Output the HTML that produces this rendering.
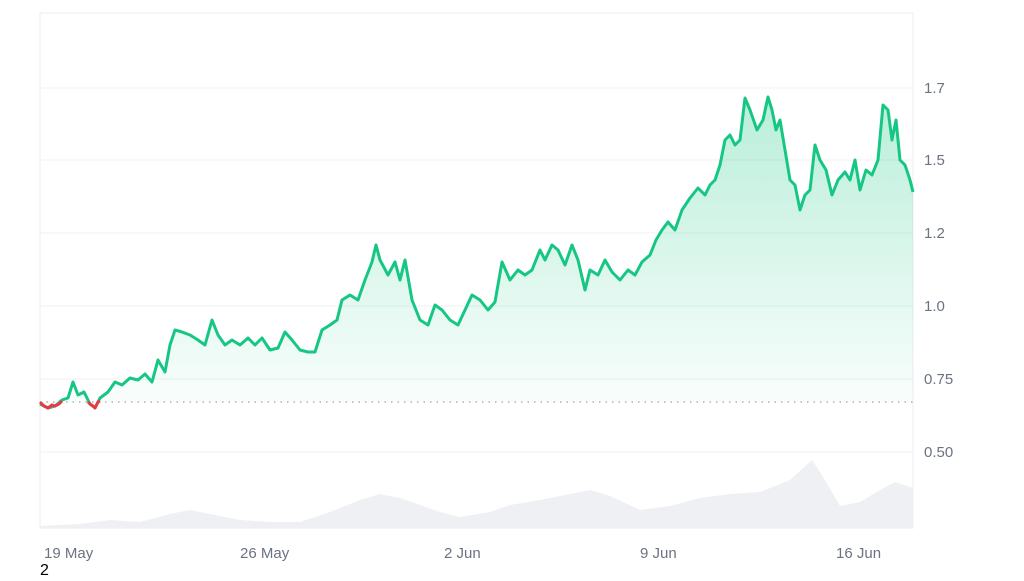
<!DOCTYPE html>
<html><head><style>
body{margin:0;background:#fff;width:1024px;height:576px;overflow:hidden;font-family:"Liberation Sans",sans-serif}
</style></head><body>
<svg width="1024" height="576" viewBox="0 0 1024 576" xmlns="http://www.w3.org/2000/svg">
<defs><linearGradient id="g" x1="0" y1="0" x2="0" y2="1">
<stop offset="0" stop-color="#16c784" stop-opacity="0.3"/><stop offset="1" stop-color="#16c784" stop-opacity="0.02"/></linearGradient></defs>
<rect x="40" y="13" width="873" height="515" fill="none" stroke="#eceef1"/>
<g stroke="#f0f1f3" stroke-width="1">
<line x1="40" x2="913" y1="88" y2="88"/><line x1="40" x2="913" y1="160" y2="160"/>
<line x1="40" x2="913" y1="233" y2="233"/><line x1="40" x2="913" y1="306" y2="306"/>
<line x1="40" x2="913" y1="379" y2="379"/><line x1="40" x2="913" y1="452" y2="452"/></g>
<line x1="40" x2="913" y1="402" y2="402" stroke="#888" stroke-dasharray="1.5 5"/>
<path d="M40,528 L40,526 80,524 110,520 140,522 170,514 190,510 210,514 240,520 270,522 300,522 330,512 360,500 380,494 400,498 420,505 440,512 460,517 490,512 510,505 540,500 560,496 590,490 610,496 640,510 670,506 700,498 730,494 760,492 790,480 812,460 825,480 840,506 860,502 880,490 895,482 913,488 L913,528 Z" fill="#eff0f3"/>
<g>
<path id="p" d="M40,404 48,408 55,406 62,400 68,398 73,382 78,395 84,392 90,404 95,408 100,398 108,392 115,382 122,385 130,378 138,380 145,374 152,382 158,360 165,372 170,345 175,330 182,332 190,335 198,340 205,345 212,320 218,335 225,345 232,340 240,345 248,338 255,345 262,338 270,350 278,348 285,332 292,340 300,350 308,352 315,352 322,330 330,325 337,320 342,300 350,295 358,300 365,280 372,262 376,245 380,260 388,275 395,262 400,280 405,260 412,300 420,320 428,325 435,305 442,310 450,320 458,325 465,310 472,295 480,300 488,310 495,302 502,262 510,280 518,270 525,275 532,270 540,250 545,260 552,245 558,250 565,265 572,245 578,260 585,290 590,270 598,275 605,260 612,272 620,280 628,270 635,275 642,262 650,255 656,240 662,230 668,222 675,230 682,210 690,198 698,188 705,195 710,185 715,180 720,165 725,140 730,135 735,145 740,140 745,98 750,110 757,130 763,120 768,97 772,110 776,130 780,120 785,150 790,180 795,185 800,210 805,195 810,190 815,145 820,160 826,170 832,195 838,180 845,172 850,180 855,160 860,190 866,170 872,175 878,160 883,105 888,110 892,140 896,120 900,160 905,165 910,180 913,192" fill="none"/>
<path d="M40,404 48,408 55,406 62,400 68,398 73,382 78,395 84,392 90,404 95,408 100,398 108,392 115,382 122,385 130,378 138,380 145,374 152,382 158,360 165,372 170,345 175,330 182,332 190,335 198,340 205,345 212,320 218,335 225,345 232,340 240,345 248,338 255,345 262,338 270,350 278,348 285,332 292,340 300,350 308,352 315,352 322,330 330,325 337,320 342,300 350,295 358,300 365,280 372,262 376,245 380,260 388,275 395,262 400,280 405,260 412,300 420,320 428,325 435,305 442,310 450,320 458,325 465,310 472,295 480,300 488,310 495,302 502,262 510,280 518,270 525,275 532,270 540,250 545,260 552,245 558,250 565,265 572,245 578,260 585,290 590,270 598,275 605,260 612,272 620,280 628,270 635,275 642,262 650,255 656,240 662,230 668,222 675,230 682,210 690,198 698,188 705,195 710,185 715,180 720,165 725,140 730,135 735,145 740,140 745,98 750,110 757,130 763,120 768,97 772,110 776,130 780,120 785,150 790,180 795,185 800,210 805,195 810,190 815,145 820,160 826,170 832,195 838,180 845,172 850,180 855,160 860,190 866,170 872,175 878,160 883,105 888,110 892,140 896,120 900,160 905,165 910,180 913,192 L913,402 L40,402 Z" fill="url(#g)"/>
<use href="#p" stroke="#16c784" stroke-width="3" stroke-linejoin="round"/>
<polyline points="40,402 44,406 48,408 52,405 55,406 59,404 62,401" fill="none" stroke="#ea3943" stroke-width="3" stroke-linejoin="round"/>
<polyline points="88,402 90,404 93,406 95,408 98,402 100,401" fill="none" stroke="#ea3943" stroke-width="3" stroke-linejoin="round"/>
</g>
<g fill="#6b7280" font-size="15">
<text x="924" y="93">1.7</text><text x="924" y="165">1.5</text><text x="924" y="238">1.2</text>
<text x="924" y="311">1.0</text><text x="924" y="384">0.75</text><text x="924" y="457">0.50</text>
<text x="44" y="558">19 May</text><text x="240" y="558">26 May</text><text x="444" y="558">2 Jun</text>
<text x="640" y="558">9 Jun</text><text x="836" y="558">16 Jun</text></g>
<text x="40" y="575" font-size="16" fill="#000">2</text>
</svg>
</body></html>
